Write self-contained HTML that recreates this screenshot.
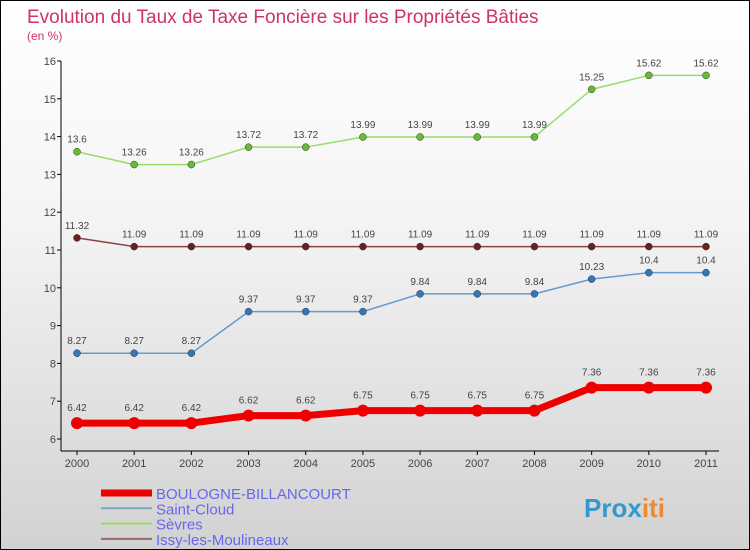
<!DOCTYPE html>
<html><head><meta charset="utf-8"><style>
body{margin:0}
#c{width:750px;height:550px;position:relative;background:linear-gradient(#ffffff,#f4f4f4 40%,#d2d2d2);border:1px solid #000;box-sizing:border-box;font-family:"Liberation Sans",sans-serif;overflow:hidden}
</style></head><body>
<div id="c">
<svg id="s" width="750" height="550" style="position:absolute;left:0;top:0"></svg>
</div>
<script>
const years=["2000","2001","2002","2003","2004","2005","2006","2007","2008","2009","2010","2011"];
const boulogne=[6.42,6.42,6.42,6.62,6.62,6.75,6.75,6.75,6.75,7.36,7.36,7.36];
const saintCloud=[8.27,8.27,8.27,9.37,9.37,9.37,9.84,9.84,9.84,10.23,10.4,10.4];
const sevres=[13.6,13.26,13.26,13.72,13.72,13.99,13.99,13.99,13.99,15.25,15.62,15.62];
const issy=[11.32,11.09,11.09,11.09,11.09,11.09,11.09,11.09,11.09,11.09,11.09,11.09];
const yTicks=[6,7,8,9,10,11,12,13,14,15,16];
const NS="http://www.w3.org/2000/svg",s=document.getElementById('s');
const X=i=>76+i*(705-76)/11, Y=v=>438-(v-6)*37.8;
function el(t,a,txt){const e=document.createElementNS(NS,t);for(const k in a)e.setAttribute(k,a[k]);if(txt!==undefined)e.textContent=txt;s.appendChild(e);return e;}
let e;
e=el('text',{x:26,y:22,'font-size':19,fill:'#cc3366'},'Evolution du Taux de Taxe Foncière sur les Propriétés Bâties');


e=el('text',{x:26,y:39,'font-size':12,fill:'#cc3366'},'(en %)');


e=el('line',{x1:60,y1:60,x2:60,y2:450,stroke:'#000'});


e=el('line',{x1:60,y1:450,x2:718,y2:450,stroke:'#000'});


yTicks.forEach(v=>{const y=Y(v);el('line',{x1:56,y1:y,x2:60,y2:y,stroke:'#000'});
e=el('text',{x:55,y:y+4,'font-size':11,'text-anchor':'end',fill:'#444'},v);

});
years.forEach((t,i)=>{el('line',{x1:X(i),y1:450,x2:X(i),y2:454,stroke:'#000'});
e=el('text',{x:X(i),y:466,'font-size':11,'text-anchor':'middle',fill:'#444'},t);

});
const series=[[sevres,'#99dd66','#66bb33',1.5,4,'sevres'],[issy,'#884444','#662222',1.5,4,'issy'],[saintCloud,'#6699cc','#3377bb',1.5,4,'saint-cloud'],[boulogne,'#ee0000','#ee0000',7,7,'boulogne']];
series.forEach(([d,c,mc,w,r,n])=>{
e=el('polyline',{points:d.map((v,i)=>X(i)+','+Y(v)).join(' '),fill:'none',stroke:c,'stroke-width':w});


d.forEach((v,i)=>{e=el('circle',{cx:X(i),cy:Y(v),r:r==7?6:3.5,fill:mc,stroke:n=='boulogne'?'none':'#333','stroke-width':0.5});


e=el('text',{x:X(i),y:Y(v)-(r==7?12:9),'font-size':10,'text-anchor':'middle',fill:'#444'},v);

});
});
const leg=[['BOULOGNE-BILLANCOURT','#ee0000',7],['Saint-Cloud','#77aacc',2],['Sèvres','#99dd66',2],['Issy-les-Moulineaux','#996666',2]];
leg.forEach(([t,c,w],i)=>{const y=492+i*15.3;
e=el('line',{x1:100,y1:y,x2:151,y2:y,stroke:c,'stroke-width':w});


e=el('text',{x:155,y:y+6,'font-size':15,fill:'#6666ee'},t);

});
e=el('text',{x:583,y:516,'font-size':26,'font-weight':'bold',fill:'#3399cc'});
e.innerHTML='Prox<tspan fill="#ee8833">iti</tspan>';


</script>
</body></html>
